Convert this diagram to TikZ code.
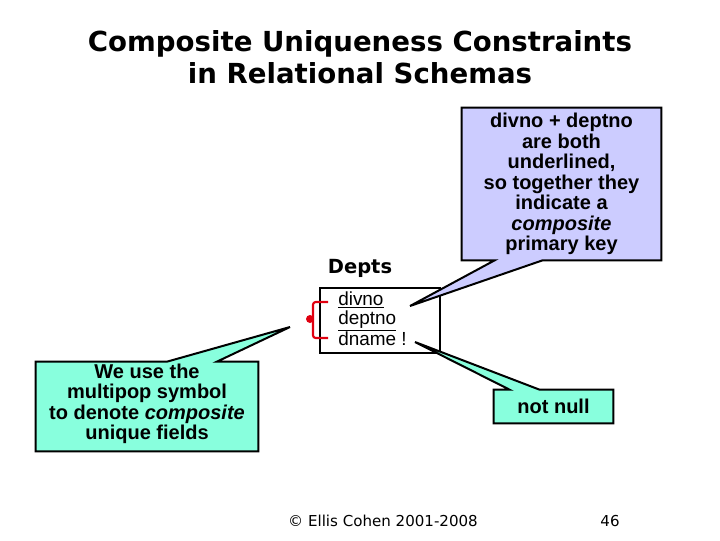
\documentclass[tikz,border=0pt]{standalone}
\usepackage{fontspec}
\setmainfont{Liberation Sans}
\newfontfamily\verdana{DejaVu Sans}
\usetikzlibrary{calc}
\definecolor{keyfill}{HTML}{CCCCFF}
\definecolor{popfill}{HTML}{88FFDD}
\definecolor{bracketred}{HTML}{E00010}
\tikzset{title/.style={font=\verdana\bfseries\fontsize{20.7}{24}\selectfont,align=center}, tag/.style={font=\verdana\bfseries\fontsize{14.6}{16}\selectfont}, fields/.style={font=\fontsize{14.2}{13.9}\selectfont,align=left,inner sep=0pt,anchor=west}, notebox/.style={inner sep=0pt,minimum width=#1}, callbody/.style={draw=black,line width=1.5pt,line join=miter}, notetext/.style={font=\bfseries\fontsize{15}{15.4}\selectfont,align=center}, foot/.style={font=\verdana\fontsize{11.3}{13}\selectfont}}

\begin{document}
\begin{tikzpicture}[x=0.75pt,y=-0.75pt]
\useasboundingbox(0,0)rectangle(720,540);
\node[title](ttl)at(360,57){Composite Uniqueness Constraints\\in Relational Schemas};
\node[tag](dname)at(360,268){Depts};
% relation box with its fields
\node[draw,line width=1.5pt,minimum width=90pt,minimum height=48.75pt](tbl)at(380,320.5){};
\node[fields](flds)at(338,319){\underline{divno}\\\underline{deptno}\\dname !};
\draw[bracketred,line width=1.6pt,rounded corners=2pt](328,302)--(313,302)--(313,338)--(328,338);\fill[bracketred](310,319)circle(3pt);
\coordinate(keytip)at(410,306);\coordinate(poptip)at(290,327);\coordinate(nulltip)at(415,342);
% callouts
\node[notebox=149.25pt,minimum height=114pt](keybox)at(561.5,184){};
\draw[callbody,fill=keyfill](keybox.north west)--(keybox.north east)--(keybox.south east)--($(keybox.south west)+(81,0)$)--(keytip)--($(keybox.south west)+(33,0)$)--(keybox.south west)--cycle;
\node[notetext](keytext)at(keybox){divno + deptno\\are both\\underlined,\\so together they\\indicate a\\\textit{composite}\\primary key};
\node[notebox=166.5pt,minimum height=66.75pt](popbox)at(147,406.5){};
\draw[callbody,fill=popfill](popbox.south west)--(popbox.north west)--($(popbox.north west)+(131,0)$)--(poptip)--($(popbox.north west)+(181,0)$)--(popbox.north east)--(popbox.south east)--cycle;
\node[notetext](poptext)at(147,404){We use the\\multipop symbol\\to denote \textit{composite}\\unique fields};
\node[notebox=89.25pt,minimum height=24.75pt](nullbox)at(553.5,406.5){};
\draw[callbody,fill=popfill](nullbox.south west)--(nullbox.north west)--($(nullbox.north west)+(16,0)$)--(nulltip)--($(nullbox.north west)+(46,0)$)--(nullbox.north east)--(nullbox.south east)--cycle;
\node[notetext](nulltext)at(nullbox){not null};
% footer
\node[foot](copy)at(383,521){© Ellis Cohen 2001-2008};\node[foot](pgno)at(610,521){46};
\end{tikzpicture}
\end{document}
